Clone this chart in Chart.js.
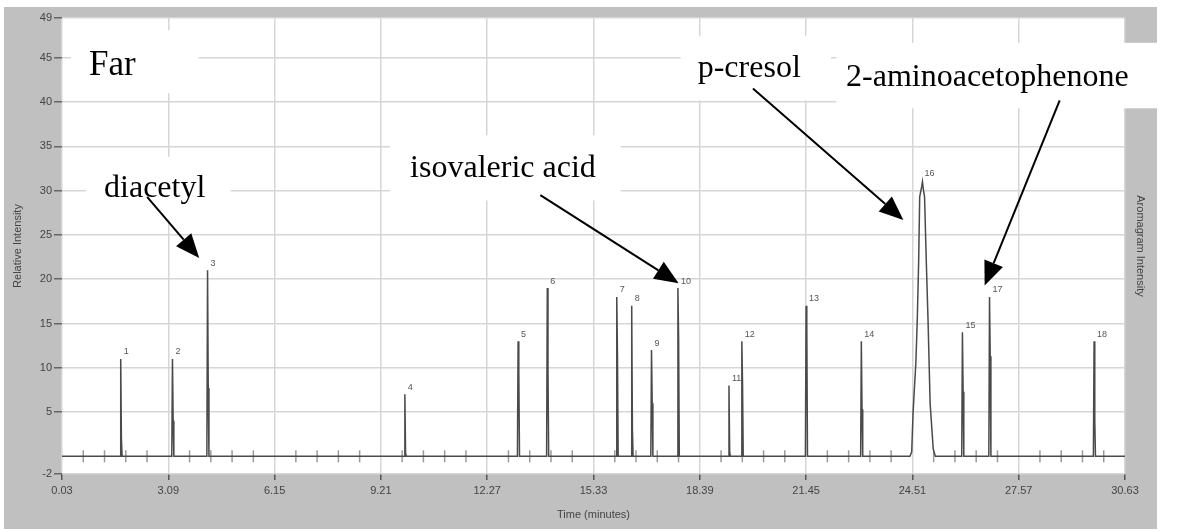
<!DOCTYPE html>
<html>
<head>
<meta charset="utf-8">
<script src="https://cdn.jsdelivr.net/npm/chart.js@4.4.0/dist/chart.umd.min.js"></script>
<style>
  html, body { margin: 0; padding: 0; background: #fff; }
  #wrap { width: 1199px; height: 531px; }
</style>
</head>
<body>
<div id="wrap"><canvas id="chart"></canvas></div>
<script>
// axis ticks
const xTickLabels = ['0.03', '3.09', '6.15', '9.21', '12.27', '15.33', '18.39', '21.45', '24.51', '27.57', '30.63'];
const xTickValues = xTickLabels.map(Number);
const yTickValues = [-2, 5, 10, 15, 20, 25, 30, 35, 40, 45, 49.5];
const yTickLabels = ['-2', '5', '10', '15', '20', '25', '30', '35', '40', '45', '49'];

// narrow peaks (time in minutes, relative intensity)
const spikeTimes = [1.72, 3.21, 4.22, 9.90, 13.16, 14.00, 16.00, 16.43, 17.00, 17.76, 19.23, 19.60, 21.45, 23.04, 25.95, 26.73, 29.74];
const spikeHeights = [11, 11, 21, 7, 13, 19, 18, 17, 12, 19, 8, 13, 17, 13, 14, 18, 13];
const spikeShoulders = [2, 4, 7.7, 0.4, 9.5, 9.5, 11.5, 3, 6, 13.4, 0.5, 8.3, 14.8, 5.3, 7.3, 11.3, 4];
const spikeLabels = ['1', '2', '3', '4', '5', '6', '7', '8', '9', '10', '11', '12', '13', '14', '15', '17', '18'];

// wide peak 16 (p-cresol)
const bandTimes = [24.44, 24.49, 24.53, 24.61, 24.65, 24.69, 24.72, 24.78, 24.80, 24.83, 24.86, 24.91, 24.96, 25.02, 25.11, 25.17];
const bandValues = [0, 0.5, 5, 10.6, 15.4, 22, 29.3, 30.5, 31, 30, 29.3, 22, 15.4, 6, 0.8, 0];
const bandLabel = '16';

// callouts drawn on top (data coordinates)
const notes = [
  { text: 'Far', size: 35, x: 0.81, y: 43.1, box: [0.29, 48.1, 3.96, 41.0] },
  { text: 'diacetyl', size: 32, x: 1.24, y: 29.3, box: [0.72, 33.8, 4.88, 26.7], arrow: [2.48, 29.3, 3.98, 22.4] },
  { text: 'isovaleric acid', size: 32, x: 10.05, y: 31.5, box: [9.47, 36.25, 16.11, 28.9], arrow: [13.80, 29.5, 17.78, 19.55] },
  { text: 'p-cresol', size: 32, x: 18.33, y: 42.8, box: [17.84, 47.5, 22.17, 40.2], arrow: [19.92, 41.55, 24.25, 26.7] },
  { text: '2-aminoacetophenone', size: 32, x: 22.60, y: 41.8, box: [22.32, 46.7, 31.61, 39.3], arrow: [28.75, 40.2, 26.59, 19.3] },
];

// build the trace
let trace = [{ x: xTickValues[0], y: 0 }, { x: xTickValues[xTickValues.length - 1], y: 0 }];
spikeTimes.forEach((t, i) => {
  trace.push({ x: t - 0.02, y: 0 }, { x: t, y: spikeHeights[i] }, { x: t + 0.02, y: spikeShoulders[i] }, { x: t + 0.04, y: 0 });
});
bandTimes.forEach((t, i) => trace.push({ x: t, y: bandValues[i] }));
trace.sort((a, b) => a.x - b.x);

const smallFont = { family: 'Liberation Sans', size: 11 };

function drawArrow(ctx, x1, y1, x2, y2) {
  const ang = Math.atan2(y2 - y1, x2 - x1);
  const len = 24, half = 10;
  const bx = x2 - len * Math.cos(ang), by = y2 - len * Math.sin(ang);
  ctx.beginPath();
  ctx.moveTo(x1, y1);
  ctx.lineTo(bx, by);
  ctx.stroke();
  ctx.beginPath();
  ctx.moveTo(x2, y2);
  ctx.lineTo(bx + half * Math.sin(ang), by - half * Math.cos(ang));
  ctx.lineTo(bx - half * Math.sin(ang), by + half * Math.cos(ang));
  ctx.closePath();
  ctx.fill();
}

const decorPlugin = {
  id: 'decor',
  beforeDraw(chart) {
    const { ctx, chartArea: a } = chart;
    const right = chart.scales.yRight.right;
    ctx.save();
    ctx.fillStyle = '#fff';
    ctx.fillRect(0, 0, chart.width, chart.height);
    ctx.fillStyle = '#c0c0c0';
    ctx.fillRect(4, 7, right - 4, chart.height - 9);
    ctx.fillStyle = '#fff';
    ctx.fillRect(a.left, a.top, a.right - a.left, a.bottom - a.top);
    ctx.restore();
  },
  beforeDatasetsDraw(chart) {
    const { ctx } = chart;
    const xs = chart.scales.x, ys = chart.scales.y;
    ctx.save();
    // white boxes behind the callouts
    ctx.fillStyle = '#fff';
    notes.forEach((n) => {
      const x1 = xs.getPixelForValue(n.box[0]), y1 = ys.getPixelForValue(n.box[1]);
      const x2 = xs.getPixelForValue(n.box[2]), y2 = ys.getPixelForValue(n.box[3]);
      ctx.fillRect(x1, y1, x2 - x1, y2 - y1);
    });
    // minor ticks on the baseline
    const y0 = ys.getPixelForValue(0);
    ctx.strokeStyle = '#9a9a9a';
    ctx.lineWidth = 1.5;
    for (let i = 0; i < xTickValues.length - 1; i++) {
      const step = (xTickValues[i + 1] - xTickValues[i]) / 5;
      for (let k = 1; k < 5; k++) {
        const px = xs.getPixelForValue(xTickValues[i] + k * step);
        ctx.beginPath();
        ctx.moveTo(px, y0 - 6);
        ctx.lineTo(px, y0 + 6);
        ctx.stroke();
      }
    }
    ctx.restore();
  },
  afterDatasetsDraw(chart) {
    const { ctx } = chart;
    const xs = chart.scales.x, ys = chart.scales.y;
    ctx.save();
    // peak numbers
    ctx.fillStyle = '#555';
    ctx.font = '9px "Liberation Sans"';
    ctx.textAlign = 'left';
    ctx.textBaseline = 'middle';
    spikeTimes.forEach((t, i) => {
      ctx.fillText(spikeLabels[i], xs.getPixelForValue(t) + 3, ys.getPixelForValue(spikeHeights[i]) - 7);
    });
    const top = bandValues.indexOf(Math.max(...bandValues));
    ctx.fillText(bandLabel, xs.getPixelForValue(bandTimes[top]) + 2, ys.getPixelForValue(bandValues[top]) - 8);
    // callouts
    ctx.fillStyle = '#000';
    ctx.strokeStyle = '#000';
    ctx.lineWidth = 2;
    ctx.textBaseline = 'alphabetic';
    notes.forEach((n) => {
      ctx.font = n.size + 'px "Liberation Serif"';
      ctx.fillText(n.text, xs.getPixelForValue(n.x), ys.getPixelForValue(n.y));
      if (n.arrow) {
        drawArrow(ctx,
          xs.getPixelForValue(n.arrow[0]), ys.getPixelForValue(n.arrow[1]),
          xs.getPixelForValue(n.arrow[2]), ys.getPixelForValue(n.arrow[3]));
      }
    });
    ctx.restore();
  }
};

const ctx = document.getElementById('chart');

new Chart(ctx, {
  type: 'line',
  data: {
    datasets: [
      {
        label: 'Aromagram',
        data: trace,
        borderColor: '#4a4a4a',
        borderWidth: 1.5,
        pointRadius: 0,
        tension: 0,
        fill: false,
      },
    ],
  },
  options: {
    responsive: true,
    maintainAspectRatio: false,
    animation: false,
    layout: { padding: { left: 5, right: 42, top: 18, bottom: 3 } },
    plugins: {
      legend: { display: false },
      tooltip: { enabled: false },
    },
    scales: {
      x: {
        type: 'linear',
        position: 'bottom',
        min: xTickValues[0],
        max: xTickValues[xTickValues.length - 1],
        afterBuildTicks: (s) => { s.ticks = xTickValues.map((v) => ({ value: v })); },
        afterFit: (s) => { s.height = 54; },
        ticks: {
          autoSkip: false,
          maxRotation: 0,
          padding: 4,
          color: '#444',
          font: smallFont,
          callback: (v, i) => xTickLabels[i],
        },
        grid: { color: '#d6d6d6', lineWidth: 1.5, tickColor: '#555', tickLength: 6 },
        border: { display: false },
        title: { display: true, text: 'Time (minutes)', color: '#444', font: smallFont, padding: { top: 0, bottom: 6 } },
      },
      y: {
        type: 'linear',
        position: 'left',
        min: -2,
        max: 49.5,
        afterBuildTicks: (s) => { s.ticks = yTickValues.map((v) => ({ value: v })); },
        afterFit: (s) => { s.width = 57; },
        ticks: {
          autoSkip: false,
          padding: 2,
          color: '#444',
          font: smallFont,
          callback: (v, i) => yTickLabels[i],
        },
        grid: { color: '#d6d6d6', lineWidth: 1.5, tickColor: '#666', tickLength: 8 },
        border: { display: false },
        title: { display: true, text: 'Relative Intensity', color: '#444', font: smallFont, padding: { top: 6, bottom: 0 } },
      },
      yRight: {
        type: 'linear',
        position: 'right',
        min: -2,
        max: 49.5,
        afterFit: (s) => { s.width = 32; },
        ticks: { display: false },
        grid: { display: false },
        border: { display: false },
        title: { display: true, text: 'Aromagram Intensity', color: '#444', font: smallFont, padding: { top: 10, bottom: 0 } },
      },
    },
  },
  plugins: [decorPlugin],
});
</script>
</body>
</html>
